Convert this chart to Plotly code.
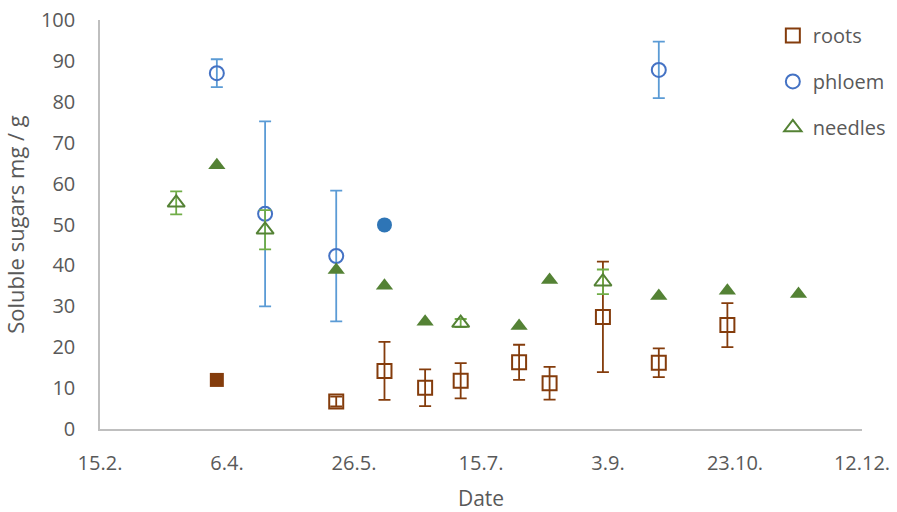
import plotly.graph_objects as go

# Roots (open squares with error bars)
roots_dates = ["2019-05-19", "2019-06-07", "2019-06-23", "2019-07-07", "2019-07-30",
               "2019-08-11", "2019-09-01", "2019-09-23", "2019-10-20"]
roots_vals = [6.7, 14.2, 10.1, 11.8, 16.3, 11.2, 27.4, 16.2, 25.4]
roots_err = [1.2, 7.1, 4.5, 4.3, 4.3, 4.0, 13.5, 3.5, 5.4]
roots_fill_dates = ["2019-04-02"]
roots_fill_vals = [12.0]

# Phloem
phloem_dates = ["2019-04-02", "2019-04-21", "2019-05-19", "2019-09-23"]
phloem_vals = [87.0, 52.6, 42.3, 87.8]
phloem_err = [3.4, 22.6, 16.0, 6.9]
phloem_fill_dates = ["2019-06-07"]
phloem_fill_vals = [49.9]

# Needles
needles_dates = ["2019-03-17", "2019-04-21", "2019-07-07", "2019-09-01"]
needles_vals = [55.3, 48.7, 25.9, 36.0]
needles_err = [2.8, 4.8, 1.0, 3.0]
needles_fill_dates = ["2019-04-02", "2019-05-19", "2019-06-07", "2019-06-23", "2019-07-30",
                      "2019-08-11", "2019-09-23", "2019-10-20", "2019-11-17"]
needles_fill_vals = [64.5, 38.9, 35.0, 26.2, 25.2, 36.4, 32.5, 33.8, 33.0]

tick_dates = ["2019-02-15", "2019-04-06", "2019-05-26", "2019-07-15",
              "2019-09-03", "2019-10-23", "2019-12-12"]
tick_labels = ["15.2.", "6.4.", "26.5.", "15.7.", "3.9.", "23.10.", "12.12."]

BROWN = "#843C0C"
BLUE = "#4472C4"
LBLUE = "#5B9BD5"
FBLUE = "#2E75B6"
GREEN = "#548235"
LGREEN = "#70AD47"
TXT = "#595959"

fig = go.Figure()

def err(vals, color):
    return dict(type="data", array=vals, visible=True, color=color, thickness=1.8, width=6)

fig.add_trace(go.Scatter(x=roots_dates, y=roots_vals, mode="markers", name="roots",
                         legendgroup="a",
                         marker=dict(symbol="square-open", size=14, color=BROWN, line=dict(width=2, color=BROWN)),
                         error_y=err(roots_err, BROWN)))
fig.add_trace(go.Scatter(x=phloem_dates, y=phloem_vals, mode="markers", name="phloem",
                         legendgroup="b",
                         marker=dict(symbol="circle-open", size=14, color=BLUE, line=dict(width=2, color=BLUE)),
                         error_y=err(phloem_err, LBLUE)))
fig.add_trace(go.Scatter(x=needles_dates, y=needles_vals, mode="markers", name="needles",
                         legendgroup="c",
                         marker=dict(symbol="triangle-up-open", size=15, color=GREEN, line=dict(width=2, color=GREEN)),
                         error_y=err(needles_err, LGREEN)))
fig.add_trace(go.Scatter(x=roots_fill_dates, y=roots_fill_vals, mode="markers", showlegend=False,
                         marker=dict(symbol="square", size=14, color=BROWN)))
fig.add_trace(go.Scatter(x=phloem_fill_dates, y=phloem_fill_vals, mode="markers", showlegend=False,
                         marker=dict(symbol="circle", size=15, color=FBLUE)))
fig.add_trace(go.Scatter(x=needles_fill_dates, y=needles_fill_vals, mode="markers", showlegend=False,
                         marker=dict(symbol="triangle-up", size=15, color=GREEN)))

FONT = "Open Sans"
fig.update_layout(
    width=897, height=512,
    margin=dict(l=100, r=35, t=20, b=83, autoexpand=False),
    paper_bgcolor="white", plot_bgcolor="white",
    font=dict(family=FONT, size=20, color=TXT),
    legend=dict(x=0.883, y=1.01, xanchor="left", yanchor="top",
                font=dict(size=20, color=TXT), tracegroupgap=17,
                bgcolor="rgba(0,0,0,0)"),
    xaxis=dict(type="date", range=["2019-02-15", "2019-12-12"], automargin=False,
               tickmode="array", tickvals=tick_dates, ticktext=tick_labels,
               tickfont=dict(size=20, color=TXT),
               showline=True, linecolor="#BFBFBF", linewidth=1.5,
               showgrid=False, zeroline=False, ticks="",
               ticklabelstandoff=15,
               title=dict(text="Date", font=dict(size=21, color=TXT), standoff=17)),
    yaxis=dict(range=[0, 100], dtick=10, showline=True, linecolor="#BFBFBF", linewidth=1.5,
               automargin=False,
               tickfont=dict(size=20, color=TXT),
               showgrid=False, zeroline=False, ticks="", ticklabelstandoff=19,
               title=dict(text="Soluble sugars mg / g", font=dict(size=22, color=TXT), standoff=14)),
)

fig.write_html("out.html")
